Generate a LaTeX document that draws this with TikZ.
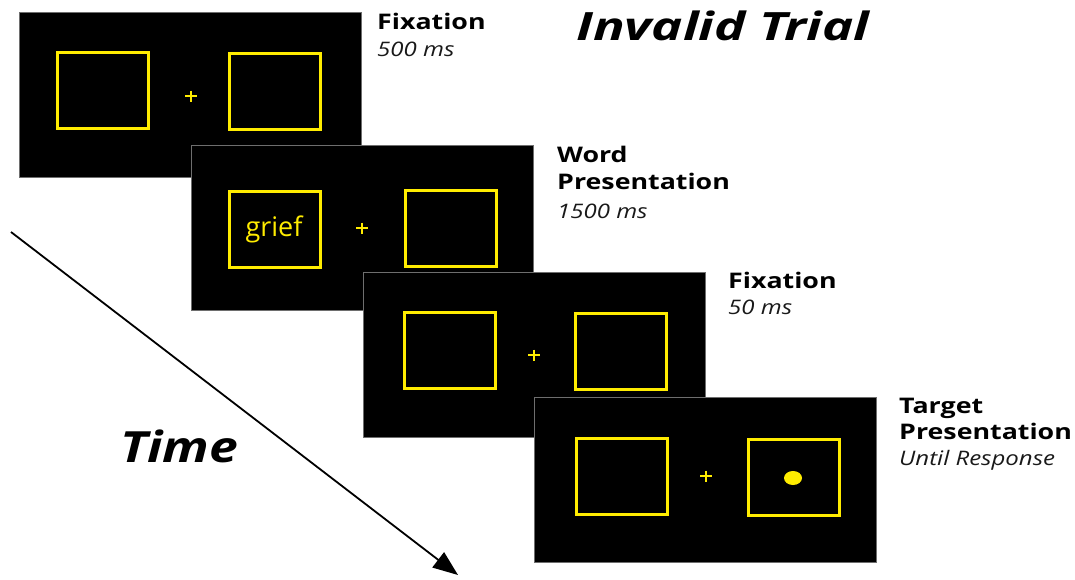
\documentclass[tikz,border=0pt]{standalone}
\usepackage{fontspec}
\setmainfont{Open Sans}
\newfontfamily\fbold{Open Sans}[FakeStretch=1.245]
\newfontfamily\fital{Open Sans}[FakeStretch=1.2]
\newfontfamily\ftitle{Open Sans}[FakeStretch=1.35]
\newfontfamily\ftime{Open Sans}[FakeStretch=1.2]
\usetikzlibrary{arrows.meta}
\definecolor{cueyellow}{RGB}{255,236,0}
\definecolor{rim}{RGB}{110,110,110}
\begin{document}
\begin{tikzpicture}[x=1pt,y=-1pt,
  panel/.style={fill=black, draw=rim, line width=1pt, minimum width=342pt, minimum height=165pt, inner sep=0pt, anchor=north west},
  cuebox/.style={draw=cueyellow, line width=3pt, minimum width=91pt, minimum height=76pt, inner sep=0pt},
  lbl/.style={anchor=base west, inner sep=0pt, font=\fbold\bfseries\fontsize{21.5}{24}\selectfont},
  dur/.style={anchor=base west, inner sep=0pt, text=black!90, font=\fital\itshape\fontsize{20}{24}\selectfont},
  fixcross/.pic={\draw[cueyellow, line width=2.8pt] (-6,0) -- (6,0) (0,-5.5) -- (0,5.5);}
  ]
\useasboundingbox (0,0) rectangle (1075,579);

% title
\node[anchor=base west, inner sep=0pt, font=\ftitle\bfseries\itshape\fontsize{39}{44}\selectfont] (title) at (576,40) {Invalid Trial};

% time arrow
\coordinate (ts) at (11,232);
\coordinate (te) at (458,575);
\draw[line width=1.8pt, -{Triangle[length=25pt,width=19pt]}] (ts) -- (te);
\node[anchor=base west, inner sep=0pt, font=\ftime\bfseries\itshape\fontsize{43}{48}\selectfont] (time) at (120,462) {Time};

% panel 1
\node[panel] (p1) at (19,12) {};
\node[cuebox] (p1l) at (103,90.5) {};
\node[cuebox] (p1r) at (275,91.5) {};
\pic at (191,96) {fixcross};
\node[lbl] (l1a) at (377,29) {Fixation};
\node[dur] (l1b) at (377,56) {500 ms};

% panel 2
\node[panel] (p2) at (191,145) {};
\node[cuebox] (p2l) at (275,229) {};
\node[cuebox] (p2r) at (450.5,228) {};
\node[anchor=base, inner sep=0pt, text=cueyellow, font=\fontsize{27}{30}\selectfont] (word) at (274,236) {grief};
\pic at (362,228) {fixcross};
\node[lbl] (l2a) at (557,162) {Word};
\node[lbl] (l2b) at (557,189) {Presentation};
\node[dur] (l2c) at (557,218) {1500 ms};

% panel 3
\node[panel] (p3) at (363,272) {};
\node[cuebox] (p3l) at (449.5,350.5) {};
\node[cuebox] (p3r) at (621,351.5) {};
\pic at (534,355) {fixcross};
\node[lbl] (l3a) at (728,288) {Fixation};
\node[dur] (l3b) at (728,314) {50 ms};

% panel 4
\node[panel] (p4) at (534,397) {};
\node[cuebox] (p4l) at (621.5,476.5) {};
\node[cuebox] (p4r) at (793.5,477) {};
\pic at (706,476) {fixcross};
\fill[cueyellow] (793,478) ellipse [x radius=9, y radius=7];
\node[lbl] (l4a) at (899,413) {Target};
\node[lbl] (l4b) at (899,439) {Presentation};
\node[dur] (l4c) at (899,465) {Until Response};
\end{tikzpicture}
\end{document}
